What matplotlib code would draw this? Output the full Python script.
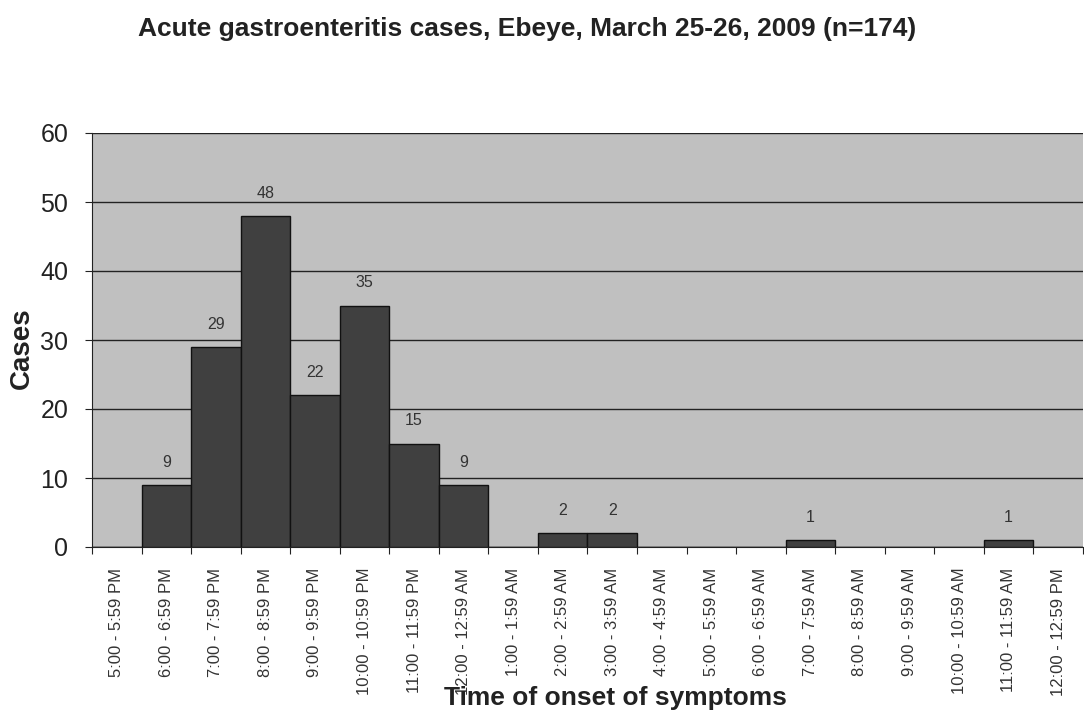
import matplotlib
matplotlib.use("Agg")
import matplotlib.pyplot as plt
import numpy as np

plt.rcParams['font.family'] = ['Liberation Sans', 'DejaVu Sans']

categories = ["5:00 - 5:59 PM", "6:00 - 6:59 PM", "7:00 - 7:59 PM", "8:00 - 8:59 PM",
              "9:00 - 9:59 PM", "10:00 - 10:59 PM", "11:00 - 11:59 PM", "12:00 - 12:59 AM",
              "1:00 - 1:59 AM", "2:00 - 2:59 AM", "3:00 - 3:59 AM", "4:00 - 4:59 AM",
              "5:00 - 5:59 AM", "6:00 - 6:59 AM", "7:00 - 7:59 AM", "8:00 - 8:59 AM",
              "9:00 - 9:59 AM", "10:00 - 10:59 AM", "11:00 - 11:59 AM", "12:00 - 12:59 PM"]
cases = [0, 9, 29, 48, 22, 35, 15, 9, 0, 2, 2, 0, 0, 0, 1, 0, 0, 0, 1, 0]
yticks = [0, 10, 20, 30, 40, 50, 60]

fig = plt.figure(figsize=(10.84, 7.11), dpi=100)
ax = fig.add_axes([92/1084, 1-547/711, 1-92/1084-0.001, (547-133)/711])
ax.set_facecolor('#c0c0c0')

x = np.arange(len(categories))
ax.bar(x, cases, width=1.0, color='#404040', edgecolor='#111111', linewidth=1.0, zorder=3)
for xi, v in zip(x, cases):
    if v > 0:
        ax.text(xi, v + 2.2, str(v), ha='center', va='bottom', fontsize=11.5, color='#333333', zorder=4)

ax.set_ylim(0, 60)
ax.set_xlim(-0.5, len(categories) - 0.5)
ax.set_yticks(yticks)
ax.set_yticklabels([str(t) for t in yticks], fontsize=18, color='#222222')
ax.yaxis.grid(True, color='#222222', linewidth=1.0, zorder=1)
ax.set_axisbelow(True)

ax.set_xticks(np.arange(-0.5, len(categories)), minor=False)
ax.set_xticklabels([])
ax.set_xticks(x, minor=True)
ax.set_xticklabels(categories, minor=True, rotation=90, fontsize=12, color='#333333')
ax.tick_params(axis='x', which='minor', length=0, pad=15)
ax.tick_params(axis='x', which='major', length=5, direction='out', color='#222222')
ax.tick_params(axis='y', length=5, direction='out', color='#222222', pad=12)

for s in ['top', 'right']:
    ax.spines[s].set_visible(False)
ax.spines['left'].set_color('#222222')
ax.spines['bottom'].set_color('#222222')

fig.text(22/1084, 1-348/711, 'Cases', rotation=90, ha='center', va='center',
         fontsize=20, fontweight='bold', color='#222222')
fig.text(615/1084, 1-705/711, 'Time of onset of symptoms', ha='center', va='baseline',
         fontsize=19, fontweight='bold', color='#222222')
fig.text(527/1084, 1-36/711, 'Acute gastroenteritis cases, Ebeye, March 25-26, 2009 (n=174)',
         ha='center', va='baseline', fontsize=19, fontweight='bold', color='#222222')

fig.savefig('out.png', dpi=100)
